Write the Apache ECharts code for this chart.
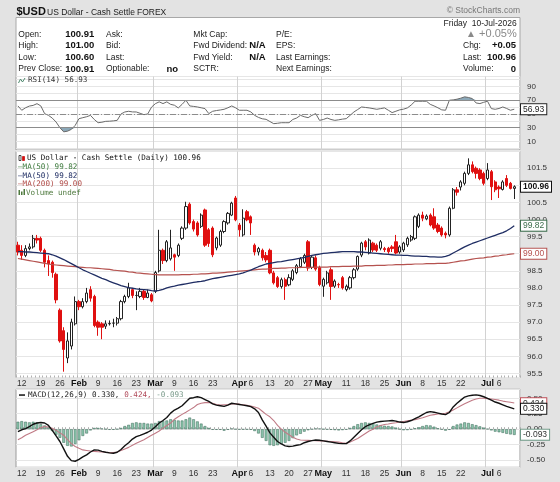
<!DOCTYPE html>
<html>
<head>
<meta charset="utf-8">
<title>$USD</title>
<script src="https://cdn.jsdelivr.net/npm/echarts@6.0.0/dist/echarts.min.js"></script>
<style>
    html, body { margin: 0; padding: 0; background: #e3e3e3; }
    #chart { width: 560px; height: 482px; }
</style>
</head>
<body>
<div id="chart"></div>
<script type="text/javascript">
    // weekdays from Fri 9-Jan-2026 to Fri 10-Jul-2026
    var dates = [];
    for (var d = new Date(Date.UTC(2026, 0, 9)); d <= new Date(Date.UTC(2026, 6, 10)); d.setUTCDate(d.getUTCDate() + 1)) {
        var wd = d.getUTCDay();
        if (wd > 0 && wd < 6) dates.push(d.toISOString().slice(0, 10));
    }
    var monthNames = ['Jan', 'Feb', 'Mar', 'Apr', 'May', 'Jun', 'Jul', 'Aug', 'Sep', 'Oct', 'Nov', 'Dec'];

    var opens = [
        99.25, 99.10, 98.95, 99.15, 99.20, 99.45, 99.45, 99.10, 98.80, 98.75,
        98.40, 97.35, 96.75, 95.95, 96.30, 96.95, 97.60, 97.45, 97.60, 97.95,
        97.75, 97.00, 96.95, 96.88, 96.95, 96.97, 96.97, 97.10, 97.60, 97.75,
        97.95, 97.78, 97.75, 97.90, 97.72, 97.80, 97.90, 98.50, 99.10, 98.80,
        98.85, 98.97, 98.95, 99.45, 99.75, 100.45, 99.94, 99.90, 99.80, 100.28,
        99.70, 99.75, 99.17, 99.25, 99.65, 99.90, 100.13, 100.63, 99.84, 99.55,
        100.23, 100.08, 99.25, 99.05, 99.10, 98.95, 99.10, 98.44, 98.30, 98.04,
        98.24, 98.09, 98.25, 98.45, 98.62, 98.75, 99.35, 98.60, 98.88, 98.60,
        98.05, 98.15, 98.53, 98.05, 98.10, 98.30, 97.95, 98.00, 98.30, 98.55,
        98.96, 99.35, 99.02, 99.31, 99.25, 99.16, 99.15, 99.16, 99.20, 99.35,
        99.05, 99.11, 99.26, 99.40, 99.45, 99.80, 100.13, 100.02, 100.13, 100.08,
        99.84, 99.75, 99.60, 99.55, 100.33, 100.87, 100.95, 101.06, 101.35, 101.60,
        101.50, 101.45, 101.35, 101.20, 101.40, 101.10, 100.95, 100.88, 101.20, 101.06, 100.91
    ];
    var closes = [
        99.05, 98.95, 99.15, 99.20, 99.45, 99.40, 99.10, 98.75, 98.70, 98.45,
        97.65, 96.45, 96.20, 96.45, 97.00, 97.60, 97.45, 97.60, 97.85, 97.70,
        96.90, 96.85, 96.85, 96.95, 96.96, 96.97, 97.10, 97.60, 97.75, 98.00,
        97.78, 97.78, 97.90, 97.72, 97.85, 97.62, 98.45, 99.10, 98.80, 99.35,
        99.17, 98.90, 99.25, 99.75, 100.38, 99.90, 99.72, 99.55, 100.13, 99.25,
        99.30, 98.97, 99.46, 99.65, 99.94, 100.18, 100.48, 99.99, 99.70, 100.04,
        99.99, 99.90, 99.05, 99.15, 98.88, 98.82, 98.44, 98.15, 98.04, 98.24,
        98.05, 98.30, 98.50, 98.65, 98.85, 98.95, 98.58, 98.90, 98.55, 98.10,
        98.25, 98.44, 98.04, 98.20, 98.09, 98.00, 98.05, 98.30, 98.53, 98.92,
        99.31, 99.20, 99.40, 99.11, 99.10, 99.35, 99.12, 99.06, 99.15, 99.02,
        99.20, 99.31, 99.45, 99.50, 100.08, 100.13, 100.04, 100.10, 99.84, 99.75,
        99.65, 99.55, 99.55, 100.33, 100.87, 100.80, 101.10, 101.35, 101.60, 101.40,
        101.35, 101.20, 101.06, 101.45, 100.96, 100.87, 100.90, 101.10, 101.00, 100.91, 100.96
    ];
    var lows = [
        98.95, 98.82, 98.90, 99.10, 99.15, 99.30, 99.05, 98.60, 98.35, 98.30,
        97.55, 96.40, 95.55, 95.80, 96.20, 96.90, 97.35, 97.40, 97.55, 97.60,
        96.85, 96.60, 96.50, 96.80, 96.90, 96.85, 96.90, 97.05, 97.55, 97.70,
        97.70, 97.35, 97.70, 97.65, 97.70, 97.58, 97.85, 98.45, 98.70, 98.75,
        98.80, 98.50, 98.90, 99.40, 99.70, 99.85, 99.65, 99.50, 99.75, 99.20,
        99.20, 98.90, 99.10, 99.20, 99.60, 99.85, 100.10, 99.95, 99.50, 99.50,
        99.95, 99.55, 98.95, 98.95, 98.80, 98.75, 98.40, 98.10, 98.00, 97.98,
        97.65, 98.05, 98.20, 98.40, 98.58, 98.70, 98.50, 98.55, 98.50, 98.05,
        97.74, 98.10, 97.65, 98.00, 98.00, 97.95, 97.90, 97.95, 98.25, 98.50,
        98.90, 99.10, 98.98, 99.05, 99.05, 99.10, 99.05, 99.00, 99.05, 98.98,
        99.00, 99.05, 99.20, 99.35, 99.40, 99.75, 99.95, 99.98, 99.80, 99.70,
        99.60, 99.50, 99.45, 99.50, 100.30, 100.70, 100.85, 101.00, 101.30, 101.35,
        101.20, 101.15, 101.00, 101.15, 100.57, 100.80, 100.63, 100.85, 100.95, 100.88, 100.60
    ];
    var highs = [
        99.35, 99.25, 99.25, 99.30, 99.55, 99.55, 99.50, 99.15, 98.95, 98.80,
        98.45, 97.40, 96.85, 96.70, 97.10, 97.75, 97.65, 97.70, 98.00, 98.05,
        97.80, 97.05, 97.00, 97.05, 97.05, 97.10, 97.15, 97.65, 97.80, 98.15,
        98.00, 97.90, 98.00, 97.95, 97.95, 97.85, 98.50, 99.70, 99.15, 99.40,
        99.70, 99.00, 99.30, 99.80, 100.52, 100.50, 100.00, 99.95, 100.18, 100.32,
        99.75, 99.80, 99.50, 99.70, 99.98, 100.22, 100.52, 100.69, 99.90, 100.30,
        100.28, 100.12, 99.30, 99.20, 99.15, 99.05, 99.15, 98.50, 98.35, 98.30,
        98.30, 98.40, 98.55, 98.70, 98.90, 99.00, 99.40, 98.95, 98.95, 98.65,
        98.30, 98.50, 98.60, 98.25, 98.15, 98.35, 98.10, 98.35, 98.58, 98.95,
        99.35, 99.40, 99.45, 99.35, 99.30, 99.40, 99.20, 99.20, 99.25, 99.55,
        99.25, 99.35, 99.50, 99.55, 100.12, 100.18, 100.23, 100.15, 100.18, 100.33,
        99.90, 99.80, 99.65, 100.38, 100.92, 100.95, 101.15, 101.40, 101.79, 101.70,
        101.55, 101.50, 101.40, 101.65, 101.45, 101.15, 101.00, 101.15, 101.30, 101.10, 101.00
    ];
    var ma50 = [
        99.06, 99.06, 99.05, 99.05, 99.04, 99.03, 99.02, 99.01, 99.00, 98.97,
        98.93, 98.88, 98.83, 98.77, 98.71, 98.65, 98.59, 98.53, 98.48, 98.43,
        98.38, 98.33, 98.28, 98.24, 98.19, 98.15, 98.11, 98.07, 98.04, 98.01,
        97.99, 97.97, 97.96, 97.95, 97.94, 97.92, 97.91, 97.93, 97.96, 98.00,
        98.03, 98.05, 98.08, 98.10, 98.12, 98.14, 98.16, 98.18, 98.19, 98.21,
        98.24, 98.27, 98.29, 98.31, 98.33, 98.35, 98.37, 98.39, 98.41, 98.44,
        98.48, 98.52, 98.57, 98.62, 98.66, 98.70, 98.72, 98.74, 98.76, 98.77,
        98.79, 98.81, 98.83, 98.85, 98.87, 98.89, 98.92, 98.95, 98.97, 98.99,
        99.01, 99.02, 99.03, 99.04, 99.05, 99.06, 99.06, 99.06, 99.06, 99.05,
        99.05, 99.04, 99.03, 99.02, 99.01, 99.00, 98.99, 98.98, 98.97, 98.96,
        98.96, 98.95, 98.95, 98.94, 98.93, 98.93, 98.92, 98.92, 98.91, 98.91,
        98.90, 98.90, 98.92, 98.96, 99.02, 99.08, 99.14, 99.20, 99.25, 99.30,
        99.34, 99.38, 99.42, 99.46, 99.50, 99.54, 99.58, 99.62, 99.67, 99.74, 99.82
    ];
    var ma200 = [
        98.86, 98.84, 98.82, 98.80, 98.78, 98.76, 98.74, 98.72, 98.70, 98.68,
        98.67, 98.66, 98.65, 98.64, 98.63, 98.62, 98.61, 98.60, 98.59, 98.59,
        98.58, 98.57, 98.56, 98.55, 98.54, 98.52, 98.51, 98.50, 98.49, 98.47,
        98.46, 98.44, 98.43, 98.42, 98.41, 98.40, 98.39, 98.38, 98.38, 98.38,
        98.38, 98.38, 98.38, 98.39, 98.39, 98.39, 98.40, 98.40, 98.41, 98.41,
        98.42, 98.43, 98.43, 98.44, 98.45, 98.46, 98.47, 98.48, 98.49, 98.50,
        98.51, 98.52, 98.53, 98.54, 98.55, 98.55, 98.56, 98.57, 98.57, 98.58,
        98.58, 98.59, 98.59, 98.59, 98.60, 98.60, 98.60, 98.60, 98.61, 98.61,
        98.61, 98.61, 98.62, 98.62, 98.62, 98.63, 98.63, 98.63, 98.64, 98.64,
        98.64, 98.65, 98.65, 98.65, 98.66, 98.66, 98.66, 98.67, 98.67, 98.68,
        98.68, 98.68, 98.69, 98.69, 98.70, 98.70, 98.70, 98.71, 98.71, 98.71,
        98.72, 98.72, 98.72, 98.73, 98.75, 98.77, 98.79, 98.80, 98.82, 98.84,
        98.86, 98.87, 98.88, 98.90, 98.91, 98.93, 98.94, 98.96, 98.97, 98.99, 99.00
    ];
    var rsi = [
        61.7, 55.4, 59, 61.5, 62.5, 65, 61.7, 50.5, 48, 44,
        38.3, 30, 24, 25, 27.6, 33.4, 43.2, 44.6, 46, 48,
        42, 37.3, 38, 39.3, 39.5, 40, 40.7, 50, 52.9, 53.9,
        53, 52.9, 51, 49, 50, 60, 65, 67.6, 65.1, 67.6,
        64, 62.7, 58.8, 64, 70, 61.7, 61, 60.2, 59, 57.8,
        50.5, 53.9, 55, 55.8, 56.8, 59, 61.7, 59, 55.4, 55.4,
        55.4, 53, 48, 45, 43, 42.2, 39, 35.9, 36.5, 37.3,
        37.3, 37.3, 42, 44.1, 48, 46, 44.6, 48, 50.5, 40.7,
        42, 44.1, 42, 40.7, 41.5, 42.5, 43.2, 48, 52.9, 56.5,
        60.2, 59.5, 58.8, 57.8, 56.8, 57.8, 58.8, 55.5, 52, 54,
        56, 57, 58.8, 63, 68.5, 68.5, 68.5, 68.5, 64, 61.7,
        59, 56, 55.4, 70, 70.5, 71.5, 73, 74.9, 74, 72.4,
        66, 65.1, 67, 68.5, 57.8, 56.8, 58, 60.2, 58, 55.4, 56.93
    ];
    var rsiTicks = [10, 30, 50, 70, 90];
    var macd = [
        -0.04, -0.01, 0.01, 0.04, 0.08, 0.10, 0.107, 0.10, 0.06, -0.02,
        -0.11, -0.20, -0.32, -0.44, -0.51, -0.52, -0.49, -0.45, -0.417, -0.37,
        -0.336, -0.34, -0.36, -0.375, -0.385, -0.39, -0.375, -0.33, -0.27, -0.22,
        -0.16, -0.12, -0.10, -0.075, -0.05, -0.015, 0.04, 0.10, 0.14, 0.19,
        0.26, 0.31, 0.34, 0.38, 0.44, 0.50, 0.51, 0.525, 0.51, 0.48,
        0.45, 0.41, 0.39, 0.38, 0.37, 0.39, 0.42, 0.41, 0.40, 0.39,
        0.38, 0.365, 0.33, 0.27, 0.15, 0.05, -0.06, -0.13, -0.20, -0.24,
        -0.27, -0.28, -0.275, -0.26, -0.25, -0.22, -0.20, -0.185, -0.175, -0.18,
        -0.19, -0.20, -0.21, -0.22, -0.23, -0.235, -0.235, -0.19, -0.13, -0.07,
        -0.01, 0.04, 0.07, 0.095, 0.115, 0.125, 0.13, 0.135, 0.14, 0.13,
        0.115, 0.107, 0.12, 0.14, 0.17, 0.20, 0.235, 0.27, 0.285, 0.275,
        0.26, 0.245, 0.235, 0.27, 0.36, 0.42, 0.47, 0.52, 0.54, 0.55,
        0.555, 0.545, 0.525, 0.50, 0.47, 0.44, 0.42, 0.395, 0.37, 0.35, 0.330
    ];
    var signal = [
        -0.173, -0.14, -0.10, -0.07, -0.04, -0.01, 0.025, 0.042, 0.035, 0.016,
        -0.02, -0.06, -0.10, -0.17, -0.235, -0.28, -0.31, -0.336, -0.345, -0.355,
        -0.36, -0.365, -0.37, -0.375, -0.38, -0.38, -0.37, -0.345, -0.32, -0.295,
        -0.26, -0.23, -0.20, -0.17, -0.135, -0.10, -0.065, -0.03, 0.016, 0.06,
        0.10, 0.16, 0.20, 0.24, 0.275, 0.313, 0.35, 0.40, 0.42, 0.43,
        0.431, 0.42, 0.40, 0.39, 0.395, 0.40, 0.41, 0.41, 0.405, 0.395,
        0.385, 0.375, 0.36, 0.34, 0.29, 0.24, 0.20, 0.14, 0.06, 0.00,
        -0.05, -0.09, -0.13, -0.16, -0.175, -0.18, -0.182, -0.184, -0.185, -0.19,
        -0.19, -0.195, -0.20, -0.205, -0.21, -0.22, -0.227, -0.21, -0.18, -0.15,
        -0.11, -0.07, -0.03, 0.00, 0.04, 0.06, 0.075, 0.085, 0.097, 0.105,
        0.115, 0.125, 0.135, 0.145, 0.155, 0.17, 0.185, 0.205, 0.225, 0.235,
        0.245, 0.25, 0.259, 0.28, 0.31, 0.345, 0.38, 0.41, 0.44, 0.47,
        0.49, 0.50, 0.50, 0.495, 0.49, 0.48, 0.47, 0.455, 0.445, 0.435, 0.424
    ];
    var hist = [
        0.12, 0.13, 0.12, 0.11, 0.12, 0.11, 0.08, 0.06, 0.03, -0.03,
        -0.09, -0.14, -0.22, -0.27, -0.28, -0.24, -0.18, -0.11, -0.07, -0.02,
        0.02, 0.02, 0.01, 0.00, -0.01, -0.01, 0.00, 0.02, 0.05, 0.07,
        0.10, 0.11, 0.10, 0.10, 0.09, 0.09, 0.10, 0.13, 0.13, 0.14,
        0.16, 0.15, 0.14, 0.14, 0.16, 0.187, 0.16, 0.125, 0.09, 0.05,
        0.02, -0.01, -0.01, -0.01, -0.025, -0.01, 0.01, 0.00, -0.005, -0.005,
        -0.005, -0.01, -0.03, -0.07, -0.14, -0.19, -0.26, -0.27, -0.26, -0.24,
        -0.22, -0.19, -0.145, -0.10, -0.075, -0.04, -0.018, -0.001, 0.01, 0.01,
        0.00, -0.005, -0.01, -0.015, -0.02, -0.015, -0.008, 0.02, 0.05, 0.08,
        0.10, 0.11, 0.10, 0.095, 0.075, 0.065, 0.055, 0.05, 0.043, 0.025,
        0.00, -0.018, -0.015, -0.005, 0.015, 0.03, 0.05, 0.065, 0.06, 0.04,
        0.015, -0.005, -0.024, -0.01, 0.05, 0.075, 0.09, 0.11, 0.10, 0.08,
        0.065, 0.045, 0.025, 0.005, -0.02, -0.04, -0.05, -0.06, -0.075, -0.085, -0.093
    ];

    var last = dates.length - 1;
    var candles = opens.map(function (o, i) { return [o, closes[i], lows[i], highs[i]]; });
    var rsiOver = rsi.map(function (v) { return Math.max(v, 70); });
    var rsiUnder = rsi.map(function (v) { return Math.min(v, 30); });

    var monthStart = dates.map(function (s, i) { return i > 0 && s.slice(5, 7) !== dates[i - 1].slice(5, 7); });
    var tickText = dates.map(function (s, i) {
        if (monthStart[i]) return '{m|' + monthNames[+s.slice(5, 7) - 1] + '}';
        if (new Date(s + 'T00:00:00Z').getUTCDay() !== 1) return '';
        for (var k = 1; k <= 2; k++) { if (monthStart[i - k] || monthStart[i + k]) return ''; }
        return String(+s.slice(8, 10));
    });

    var F = 'Liberation Sans', M = 'DejaVu Sans Mono';
    var L = 16, R = 40;
    var clear = 'rgba(0,0,0,0)';

    function onStep(v, step) { var r = v / step; return Math.abs(r - Math.round(r)) < 1e-6; }

    function tagLabel(text, border, color, bold) {
        return {
            show: true, position: 'end', distance: 1, formatter: text,
            color: color, backgroundColor: '#fff', borderColor: border, borderWidth: 1,
            padding: [1, 2, 0, 2], fontFamily: F, fontSize: 8.5, fontWeight: bold ? 'bold' : 'normal'
        };
    }
    function tag(value, text, border, color, bold) {
        return {
            symbol: 'none', silent: true, animation: false,
            lineStyle: { color: clear, width: 1 },
            label: tagLabel(text, border, color, bold),
            data: [{ yAxis: value }]
        };
    }

    function xAx(gridIndex, showLabels) {
        return {
            type: 'category', gridIndex: gridIndex, data: dates, max: dates.length, boundaryGap: true,
            axisLine: { show: false },
            axisTick: { show: showLabels, inside: true, length: 2, interval: 0, lineStyle: { color: '#b0b0b0' } },
            splitLine: {
                show: true,
                interval: function (i) { return monthStart[i] === true; },
                lineStyle: { color: '#d2d2d2', width: 1 }
            },
            axisLabel: {
                show: showLabels, margin: 2, color: '#333', fontFamily: F, fontSize: 8.5,
                interval: function (i) { return !!tickText[i]; },
                formatter: function (v, i) { return tickText[i] || ''; },
                rich: { m: { fontWeight: 'bold', fontSize: 9, color: '#111', fontFamily: F } }
            }
        };
    }
    function yAx(gridIndex, min, max, step, fmt) {
        return {
            type: 'value', gridIndex: gridIndex, position: 'right', scale: true,
            min: min, max: max, minInterval: step, maxInterval: step,
            splitNumber: Math.round((max - min) / step),
            axisLine: { show: false }, axisTick: { show: false },
            splitLine: { show: true, lineStyle: { color: '#e6e6e6' } },
            axisLabel: { margin: 7, color: '#333', fontFamily: F, fontSize: 8, formatter: fmt }
        };
    }

    function t(x, y, s, size, color, opt) {
        opt = opt || {};
        return {
            type: 'text', z: 50, silent: true,
            style: {
                x: x, y: y, text: s, fill: color || '#222',
                font: (opt.bold ? 'bold ' : '') + size + 'px "' + (opt.family || F) + '"',
                align: opt.align || 'left', verticalAlign: 'middle'
            }
        };
    }

    var chg = closes[last] - closes[last - 1];
    var sign = chg >= 0 ? '+' : '';
    var rows = [34.3, 45.7, 57.3, 69];
    var graphics = [
        { type: 'rect', z: 0, silent: true, shape: { x: L, y: 17.5, width: 560 - L - R, height: 59 }, style: { fill: '#fff', stroke: '#a8a8a8', lineWidth: 1 } },
        t(16.5, 12.3, '$USD', 11, '#111', { bold: true }),
        t(47, 12.3, 'US Dollar - Cash Settle', 8.5, '#222'),
        t(137, 12.3, 'FOREX', 8.5, '#222'),
        t(520, 11, '\u00a9 StockCharts.com', 8.5, '#777', { align: 'right' }),
        t(516.7, 23.3, 'Friday  10-Jul-2026', 8.5, '#222', { align: 'right' }),
        t(516.7, 34, sign + (chg / closes[last - 1] * 100).toFixed(2) + '%', 11, '#8a8a8a', { align: 'right' }),
        t(476, 34, '\u25b2', 10, '#8a8a8a', { align: 'right' }),
        t(463, rows[1], 'Chg:', 8.5), t(516, rows[1], sign + chg.toFixed(2), 9.5, '#111', { bold: true, align: 'right' }),
        t(463, rows[2], 'Last:', 8.5), t(516, rows[2], closes[last].toFixed(2), 9.5, '#111', { bold: true, align: 'right' }),
        t(463, rows[3], 'Volume:', 8.5), t(516, rows[3], '0', 9.5, '#111', { bold: true, align: 'right' })
    ];
    var col1 = ['Open:', 'High:', 'Low:', 'Prev Close:'];
    var col1v = [opens[last], highs[last], lows[last], closes[last - 1]];
    var col2 = ['Ask:', 'Bid:', 'Last:', 'Optionable:'];
    var col3 = ['Mkt Cap:', 'Fwd Dividend:', 'Fwd Yield:', 'SCTR:'];
    var col4 = ['P/E:', 'EPS:', 'Last Earnings:', 'Next Earnings:'];
    rows.forEach(function (y, r) {
        graphics.push(t(18.3, y, col1[r], 8.5));
        graphics.push(t(94.3, y, col1v[r].toFixed(2), 9.5, '#111', { bold: true, align: 'right' }));
        graphics.push(t(106, y, col2[r], 8.5));
        graphics.push(t(193.3, y, col3[r], 8.5));
        graphics.push(t(276, y, col4[r], 8.5));
    });
    graphics.push(t(178, rows[3], 'no', 9.5, '#111', { bold: true, align: 'right' }));
    graphics.push(t(265.7, rows[1], 'N/A', 9.5, '#111', { bold: true, align: 'right' }));
    graphics.push(t(265.7, rows[2], 'N/A', 9.5, '#111', { bold: true, align: 'right' }));

    // panel legends
    var cw = 4.58;
    graphics.push({ type: 'polyline', z: 50, silent: true, shape: { points: [[18.5, 83], [20.5, 79], [22.5, 82], [25, 78]] }, style: { stroke: '#4f8a6f', lineWidth: 1, fill: null } });
    graphics.push(t(28, 80.5, 'RSI(14) ' + rsi[last].toFixed(2), 7.6, '#333', { family: M }));
    graphics.push({ type: 'rect', z: 50, silent: true, shape: { x: 19, y: 155.5, width: 2, height: 5 }, style: { fill: '#fff', stroke: '#222', lineWidth: 0.8 } });
    graphics.push({ type: 'rect', z: 50, silent: true, shape: { x: 22.5, y: 156.5, width: 2, height: 4 }, style: { fill: '#d01010', stroke: '#d01010', lineWidth: 0.8 } });
    graphics.push(t(27, 158.3, 'US Dollar - Cash Settle (Daily) ' + closes[last].toFixed(2), 7.6, '#111', { family: M }));
    graphics.push(t(18, 167, '\u2014MA(50) ' + ma50[last].toFixed(2), 7.6, '#3d7a3d', { family: M }));
    graphics.push(t(18, 175.6, '\u2014MA(50) ' + ma50[last].toFixed(2), 7.6, '#1f2d63', { family: M }));
    graphics.push(t(18, 184.2, '\u2014MA(200) ' + ma200[last].toFixed(2), 7.6, '#b04a46', { family: M }));
    graphics.push({ type: 'rect', z: 50, silent: true, shape: { x: 18.5, y: 190, width: 1.5, height: 5 }, style: { fill: '#4f7a3f' } });
    graphics.push({ type: 'rect', z: 50, silent: true, shape: { x: 21, y: 191.5, width: 1.5, height: 3.5 }, style: { fill: '#4f7a3f' } });
    graphics.push({ type: 'rect', z: 50, silent: true, shape: { x: 23.5, y: 189, width: 1.5, height: 6 }, style: { fill: '#4f7a3f' } });
    graphics.push(t(26, 192.7, 'Volume undef', 7.6, '#4f7a3f', { family: M }));
    var mA = 'MACD(12,26,9) ' + macd[last].toFixed(3) + ', ';
    var mB = signal[last].toFixed(3) + ', ';
    graphics.push({ type: 'rect', z: 50, silent: true, shape: { x: 19, y: 394.3, width: 6, height: 1.5 }, style: { fill: '#111' } });
    graphics.push(t(28, 395, mA, 7.6, '#222', { family: M }));
    graphics.push(t(28 + mA.length * cw, 395, mB, 7.6, '#b04a5a', { family: M }));
    graphics.push(t(28 + (mA.length + mB.length) * cw, 395, hist[last].toFixed(3), 7.6, '#7a9a8a', { family: M }));

    var chart = echarts.init(document.getElementById('chart'));
    chart.setOption({
        animation: false,
        backgroundColor: '#e3e3e3',
        textStyle: { fontFamily: F },
        graphic: graphics,
        grid: [
            { left: L, right: R, top: 76.5, height: 73.5, show: true, backgroundColor: '#fff', borderColor: '#9a9a9a', borderWidth: 1 },
            { left: L, right: R, top: 151.5, height: 226, show: true, backgroundColor: '#fff', borderColor: '#9a9a9a', borderWidth: 1 },
            { left: L, right: R, top: 389.3, height: 78, show: true, backgroundColor: '#fff', borderColor: '#9a9a9a', borderWidth: 1 }
        ],
        xAxis: [xAx(0, false), xAx(1, true), xAx(2, true)],
        yAxis: [
            yAx(0, -2.4, 104.5, 10, function (v) {
                var r = Math.round(v);
                return (onStep(v, 10) && rsiTicks.indexOf(r) >= 0) ? String(r) : '';
            }),
            yAx(1, 95.38, 101.99, 0.5, function (v) { return onStep(v, 0.5) ? v.toFixed(1) : ''; }),
            yAx(2, -0.618, 0.646, 0.25, function (v) { return onStep(v, 0.25) ? v.toFixed(2) : ''; })
        ],
        series: [
            {
                type: 'candlestick', xAxisIndex: 1, yAxisIndex: 1, data: candles, barWidth: '72%',
                itemStyle: { color: '#ffffff', color0: '#e01010', borderColor: '#222', borderColor0: '#e01010', borderWidth: 1 },
                markLine: tag(closes[last], closes[last].toFixed(2), '#111', '#111', true)
            },
            {
                type: 'line', xAxisIndex: 1, yAxisIndex: 1, data: ma200, symbol: 'none',
                lineStyle: { color: '#b5524f', width: 1.2 },
                markLine: tag(ma200[last], ma200[last].toFixed(2), '#b5524f', '#b5524f')
            },
            {
                type: 'line', xAxisIndex: 1, yAxisIndex: 1, data: ma50, symbol: 'none',
                lineStyle: { color: '#1f2d63', width: 1.3 },
                markLine: tag(ma50[last], ma50[last].toFixed(2), '#3d6e4d', '#3d6e4d')
            },
            {
                type: 'line', xAxisIndex: 0, yAxisIndex: 0, data: rsiOver, symbol: 'none',
                lineStyle: { width: 0 }, areaStyle: { origin: 70, color: '#7f9fb0', opacity: 0.9 }
            },
            {
                type: 'line', xAxisIndex: 0, yAxisIndex: 0, data: rsiUnder, symbol: 'none',
                lineStyle: { width: 0 }, areaStyle: { origin: 30, color: '#7f9fb0', opacity: 0.9 }
            },
            {
                type: 'line', xAxisIndex: 0, yAxisIndex: 0, data: rsi, symbol: 'none',
                lineStyle: { color: '#6a6a6a', width: 1 },
                markLine: {
                    symbol: 'none', silent: true, animation: false,
                    data: [
                        { yAxis: 70, lineStyle: { color: '#8c8c8c', width: 1, type: 'solid' }, label: { show: false } },
                        { yAxis: 30, lineStyle: { color: '#8c8c8c', width: 1, type: 'solid' }, label: { show: false } },
                        { yAxis: 50, lineStyle: { color: '#8c8c8c', width: 1, type: [6, 2, 1, 2] }, label: { show: false } },
                        { yAxis: rsi[last], lineStyle: { color: clear }, label: tagLabel(rsi[last].toFixed(2), '#222', '#222') }
                    ]
                }
            },
            {
                type: 'bar', xAxisIndex: 2, yAxisIndex: 2, data: hist, barWidth: '72%',
                itemStyle: { color: '#8cc6ad', borderColor: '#3b6656', borderWidth: 0.5 },
                markLine: tag(hist[last], hist[last].toFixed(3), '#6f9a88', '#333')
            },
            {
                type: 'line', xAxisIndex: 2, yAxisIndex: 2, data: signal, symbol: 'none', clip: false,
                lineStyle: { color: '#c07a85', width: 1.1 },
                markLine: tag(signal[last], signal[last].toFixed(3), '#c0505a', '#333')
            },
            {
                type: 'line', xAxisIndex: 2, yAxisIndex: 2, data: macd, symbol: 'none', clip: false,
                lineStyle: { color: '#111', width: 1.4 },
                markLine: tag(macd[last], macd[last].toFixed(3), '#111', '#111')
            }
        ]
    });
</script>
</body>
</html>
